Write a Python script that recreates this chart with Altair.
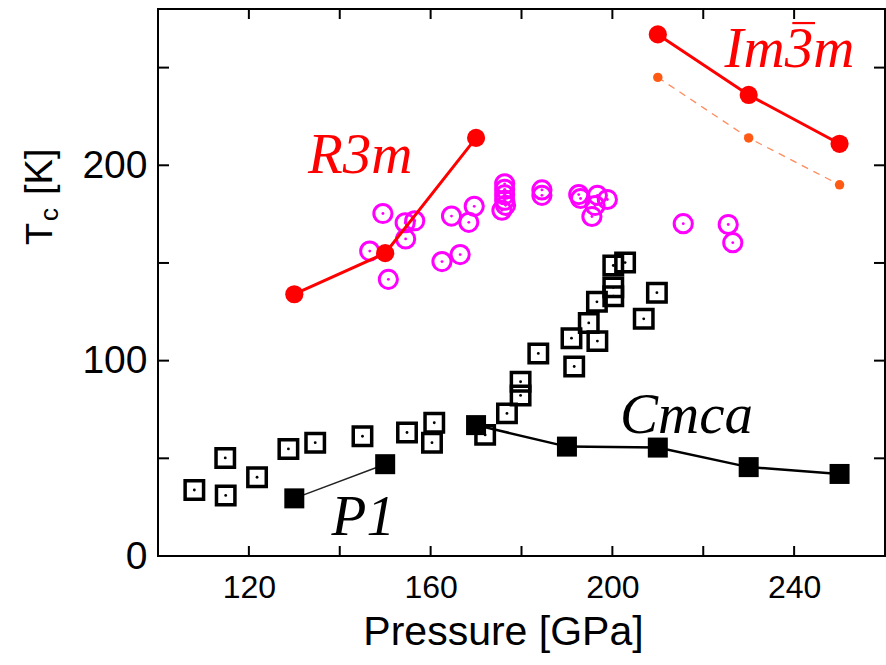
import altair as alt
import pandas as pd

# ---- data ----
r3m_p = [130, 150, 170]
r3m_tc = [134, 155, 214]

im3m_p = [210, 230, 250]
im3m_tc = [267, 236, 211]
im3m_alt_tc = [245, 214, 190]

cmca_p = [170, 190, 210, 230, 250]
cmca_tc = [67, 56, 55.5, 45.5, 42]

p1_p = [130, 150]
p1_tc = [29.5, 47]

sq_p = [108, 114.8, 114.9, 121.8, 128.7, 134.6, 145, 154.8, 160.8, 160.3, 172,
        176.8, 179.8, 179.8, 183.7, 191, 191.6, 194.8, 196.7, 196.6, 200.2, 200.2,
        202.8, 200.2, 206.9, 209.8]
sq_tc = [33.8, 50.2, 31, 40.3, 54.8, 58, 61.3, 63.2, 68.2, 58, 62,
         73, 82.2, 89.2, 103.7, 111.5, 97, 119.3, 110, 130.1, 137.5, 148.7,
         150.2, 133, 121.4, 134.8]

ci_p = [149.5, 146.6, 150.7, 154.4, 156.5, 154.5, 164.6, 169.6, 168.4, 162.5, 166.5,
        176.3, 176.3, 176.3, 176.3, 175.7, 176.5, 184.5, 184.5, 192.6, 193, 196.7,
        198.9, 195.5, 196.2, 215.6, 225.5, 226.5]
ci_tc = [175.3, 156.1, 141.6, 170.6, 171.6, 162.3, 174, 179, 170.8, 150.7, 154.3,
         190.5, 187.7, 184.9, 182.1, 177, 179.5, 187.4, 184.6, 185, 183, 184.6,
         182.5, 173.8, 179.4, 170.1, 169.7, 160.4]

x_ticks = [120, 140, 160, 180, 200, 220, 240]
y_ticks = [50, 100, 150, 200, 250]
x_labels = [120, 160, 200, 240]
y_labels = [0, 100, 200]

lab_p = [133, 224.7, 201.7, 138.2]
lab_tc = [196, 250.4, 63.1, 11]
lab_text = ["R3m", "Im3m", "Cmca", "P1"]
lab_color = ["#ff0000", "#ff0000", "#000000", "#000000"]

# overbar of the "3" in Im-3m
bar_p0 = [239.6]
bar_p1 = [244.6]
bar_tc = [272.8]

W, H = 727, 547


def frame(p, tc):
    return pd.DataFrame({"p": p, "tc": tc})


X = alt.X("p:Q", scale=alt.Scale(domain=[100, 260], nice=False, zero=False),
          axis=alt.Axis(values=x_labels, title="Pressure [GPa]", domain=False, ticks=False,
                        grid=False, labelFont="Liberation Sans", labelFontSize=32,
                        labelColor="#000", labelPadding=16, titleFont="Liberation Sans",
                        titleFontSize=41, titleFontWeight="normal", titleColor="#000",
                        titlePadding=9, titleX=345, titleAlign="center"))
Y = alt.Y("tc:Q", scale=alt.Scale(domain=[0, 280], nice=False),
          axis=alt.Axis(values=y_labels, title=None, domain=False, ticks=False, grid=False,
                        labelFont="Liberation Sans", labelFontSize=39, labelColor="#000",
                        labelPadding=11))

circles = alt.Chart(frame(ci_p, ci_tc)).mark_point(
    shape="circle", size=330, strokeWidth=3, color="#ff00ff", filled=False, opacity=1
).encode(x=X, y=Y)
circ_dots = alt.Chart(frame(ci_p, ci_tc)).mark_point(
    shape="circle", size=8, color="#ff00ff", filled=True, opacity=1
).encode(x=X, y=Y)

squares = alt.Chart(frame(sq_p, sq_tc)).mark_point(
    shape="square", size=340, strokeWidth=3.5, color="#000", filled=False, opacity=1
).encode(x=X, y=Y)
sq_dots = alt.Chart(frame(sq_p, sq_tc)).mark_point(
    shape="circle", size=8, color="#000", filled=True, opacity=1
).encode(x=X, y=Y)

r3m_line = alt.Chart(frame(r3m_p, r3m_tc)).mark_line(color="#ff0000", strokeWidth=3).encode(x=X, y=Y)
r3m_pts = alt.Chart(frame(r3m_p, r3m_tc)).mark_point(
    shape="circle", size=330, color="#ff0000", filled=True, opacity=1).encode(x=X, y=Y)

im_line = alt.Chart(frame(im3m_p, im3m_tc)).mark_line(color="#ff0000", strokeWidth=3).encode(x=X, y=Y)
im_pts = alt.Chart(frame(im3m_p, im3m_tc)).mark_point(
    shape="circle", size=330, color="#ff0000", filled=True, opacity=1).encode(x=X, y=Y)

im2_line = alt.Chart(frame(im3m_p, im3m_alt_tc)).mark_line(
    color="#ff8a5c", strokeWidth=1.3, strokeDash=[7, 6]).encode(x=X, y=Y)
im2_pts = alt.Chart(frame(im3m_p, im3m_alt_tc)).mark_point(
    shape="circle", size=90, color="#ff5a14", filled=True, opacity=1).encode(x=X, y=Y)

cmca_line = alt.Chart(frame(cmca_p, cmca_tc)).mark_line(color="#000", strokeWidth=2.5).encode(x=X, y=Y)
cmca_pts = alt.Chart(frame(cmca_p, cmca_tc)).mark_point(
    shape="square", size=400, color="#000", filled=True, opacity=1).encode(x=X, y=Y)

p1_line = alt.Chart(frame(p1_p, p1_tc)).mark_line(color="#222", strokeWidth=1.5).encode(x=X, y=Y)
p1_pts = alt.Chart(frame(p1_p, p1_tc)).mark_point(
    shape="square", size=400, color="#000", filled=True, opacity=1).encode(x=X, y=Y)

labels = alt.Chart(pd.DataFrame({"p": lab_p, "tc": lab_tc, "t": lab_text, "c": lab_color})).mark_text(
    font="Liberation Serif", fontStyle="italic", fontSize=57, align="left", baseline="alphabetic"
).encode(x=X, y=Y, text="t:N", color=alt.Color("c:N", scale=None))

overbar = alt.Chart(pd.DataFrame({"p": bar_p0, "p2": bar_p1, "tc": bar_tc})).mark_rule(
    color="#ff0000", strokeWidth=2.2
).encode(x=X, x2="p2:Q", y=Y)

xt = pd.DataFrame({"p": x_ticks})
yt = pd.DataFrame({"tc": y_ticks})
tick_b = alt.Chart(xt).mark_rule(color="#000", strokeWidth=2).encode(x=X, y=alt.value(H), y2=alt.value(H - 10))
tick_t = alt.Chart(xt).mark_rule(color="#000", strokeWidth=2).encode(x=X, y=alt.value(0), y2=alt.value(10))
tick_l = alt.Chart(yt).mark_rule(color="#000", strokeWidth=2).encode(y=Y, x=alt.value(0), x2=alt.value(11))
tick_r = alt.Chart(yt).mark_rule(color="#000", strokeWidth=2).encode(y=Y, x=alt.value(W), x2=alt.value(W - 11))

# y-axis title "T_c [K]" built from pieces (subscript c)
yt_T = alt.Chart(pd.DataFrame({"t": ["T"]})).mark_text(
    font="Liberation Sans", fontSize=36, angle=270, align="left", baseline="alphabetic", color="#000"
).encode(text="t:N", x=alt.value(-106), y=alt.value(236))
yt_c = alt.Chart(pd.DataFrame({"t": ["c"]})).mark_text(
    font="Liberation Sans", fontSize=26, angle=270, align="left", baseline="alphabetic", color="#000"
).encode(text="t:N", x=alt.value(-100), y=alt.value(212))
yt_K = alt.Chart(pd.DataFrame({"t": ["[K]"]})).mark_text(
    font="Liberation Sans", fontSize=38, angle=270, align="left", baseline="alphabetic", color="#000"
).encode(text="t:N", x=alt.value(-106), y=alt.value(186))

chart = alt.layer(
    tick_b, tick_t, tick_l, tick_r,
    circles, circ_dots, squares, sq_dots,
    p1_line, p1_pts, cmca_line, cmca_pts,
    r3m_line, r3m_pts, im2_line, im2_pts, im_line, im_pts,
    labels, overbar, yt_T, yt_c, yt_K,
).properties(
    width=W, height=H,
    autosize=alt.AutoSizeParams(type="none"),
    padding={"left": 158, "top": 9, "right": 1, "bottom": 109},
).configure_view(stroke="#000", strokeWidth=2)

chart.save("out.html", embed_options={"renderer": "svg", "actions": False})
